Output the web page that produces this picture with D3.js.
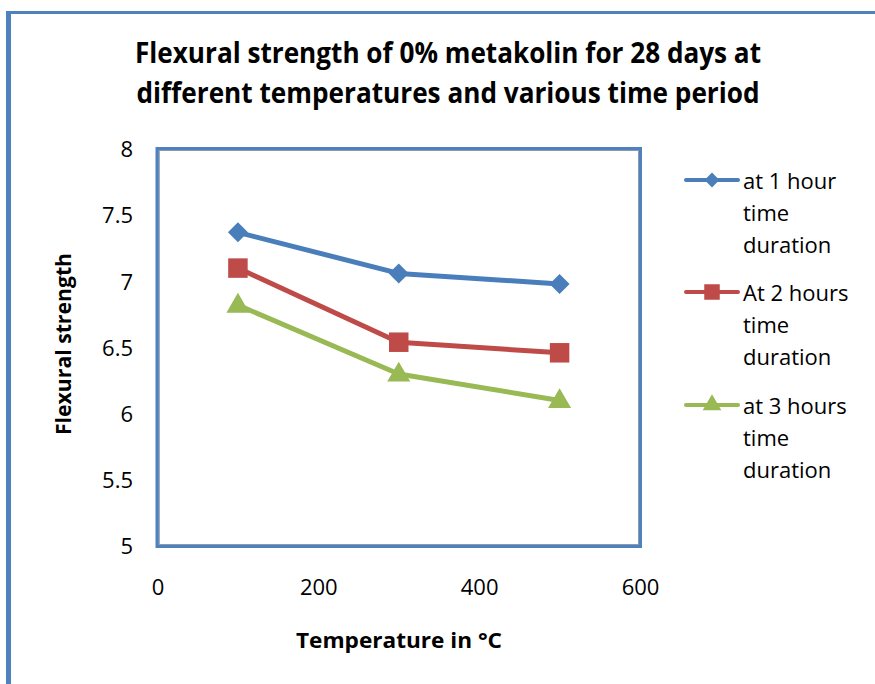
<!DOCTYPE html>
<html>
<head>
<meta charset="utf-8">
<script src="https://cdn.jsdelivr.net/npm/d3@7"></script>
<style>
  html, body { margin: 0; padding: 0; background: #fff; }
  svg { display: block; }
  text { font-family: "Open Sans", "Liberation Sans", sans-serif; fill: #000; }
</style>
</head>
<body>
<svg id="chart" width="875" height="684"></svg>
<script>
// ---- data ----
const temperatures = [100, 300, 500];
const oneHour = [7.37, 7.06, 6.98];
const twoHours = [7.10, 6.54, 6.46];
const threeHours = [6.82, 6.30, 6.10];
const seriesNames = [["at 1 hour", "time", "duration"], ["At 2 hours", "time", "duration"], ["at 3 hours", "time", "duration"]];
const xTicks = [0, 200, 400, 600];
const yTicks = [5, 5.5, 6, 6.5, 7, 7.5, 8];
const titleLines = ["Flexural strength of 0% metakolin for 28 days at", "different temperatures and various time period"];
const xTitle = "Temperature  in \u00b0C";
const yTitle = "Flexural strength";

const colors = ["#4A7EBB", "#BE4B48", "#98B954"];
const symbols = [d3.symbolSquare, d3.symbolSquare, d3.symbolTriangle];
const rotations = [45, 0, 0];
const allSeries = [oneHour, twoHours, threeHours];

const svg = d3.select("#chart");

// outer frame
svg.append("line").attr("x1", 8.5).attr("x2", 8.5).attr("y1", 11).attr("y2", 684)
  .attr("stroke", "#4F81BD").attr("stroke-width", 5);
svg.append("line").attr("x1", 6).attr("x2", 875).attr("y1", 12.5).attr("y2", 12.5)
  .attr("stroke", "#4F81BD").attr("stroke-width", 3);

// title
const titleWidths = [626, 623];
titleLines.forEach((t, i) => {
  svg.append("text").attr("x", 448).attr("y", 52 + i * 40)
    .attr("text-anchor", "middle").attr("dominant-baseline", "central")
    .attr("font-size", 28).attr("font-weight", "bold")
    .attr("textLength", titleWidths[i]).attr("lengthAdjust", "spacingAndGlyphs")
    .text(t);
});

// scales
const plot = { left: 157.5, right: 640, top: 149, bottom: 546 };
const x = d3.scaleLinear().domain([0, 600]).range([plot.left, plot.right]);
const y = d3.scaleLinear().domain([5, 8]).range([plot.bottom, plot.top]);

// plot area border
svg.append("rect").attr("x", plot.left).attr("y", plot.top)
  .attr("width", plot.right - plot.left).attr("height", plot.bottom - plot.top)
  .attr("fill", "none").attr("stroke", "#4F81BD").attr("stroke-width", 4);
svg.append("rect").attr("x", plot.left + 1.5).attr("y", plot.top + 1.5)
  .attr("width", plot.right - plot.left - 3).attr("height", plot.bottom - plot.top - 3)
  .attr("fill", "none").attr("stroke", "#8a9bb0").attr("stroke-width", 1);

// axes (labels only)
const xAxis = d3.axisBottom(x).tickValues(xTicks).tickSize(0).tickPadding(0).tickFormat(d3.format("d"));
const gx = svg.append("g").attr("transform", `translate(0,${plot.bottom + 41})`).call(xAxis);
gx.select(".domain").remove();
gx.selectAll("text").attr("font-size", 22).attr("dy", "0.35em")
  .style("font-family", "'Open Sans', sans-serif").attr("fill", "#000");

const yAxis = d3.axisLeft(y).tickValues(yTicks).tickSize(0).tickPadding(0).tickFormat(d => d3.format("")(d));
const gy = svg.append("g").attr("transform", `translate(${133},0)`).call(yAxis);
gy.select(".domain").remove();
gy.selectAll("text").attr("font-size", 22).attr("dy", "0.35em")
  .style("font-family", "'Open Sans', sans-serif").attr("fill", "#000");

// axis titles
svg.append("text").attr("x", 399).attr("y", 640).attr("text-anchor", "middle")
  .attr("dominant-baseline", "central").attr("font-size", 21).attr("font-weight", "bold")
  .attr("textLength", 206).attr("lengthAdjust", "spacingAndGlyphs").text(xTitle);
svg.append("text").attr("transform", "translate(63,344) rotate(-90)").attr("text-anchor", "middle")
  .attr("dominant-baseline", "central").attr("font-size", 21).attr("font-weight", "bold")
  .attr("textLength", 182).attr("lengthAdjust", "spacingAndGlyphs").text(yTitle);

// lines + markers
const markerSizes = [200, 380, 230];
const line = d3.line().x((d, i) => x(temperatures[i])).y(d => y(d));
allSeries.forEach((vals, s) => {
  svg.append("path").datum(vals).attr("d", line).attr("fill", "none")
    .attr("stroke", colors[s]).attr("stroke-width", 5).attr("stroke-linejoin", "round");
  const sym = d3.symbol().type(symbols[s]).size(markerSizes[s]);
  svg.selectAll(null).data(vals).enter().append("path")
    .attr("d", sym)
    .attr("transform", (d, i) => `translate(${x(temperatures[i])},${y(d) + (s === 2 ? 1 : 0)}) rotate(${rotations[s]})`)
    .attr("fill", colors[s]);
});

// legend
const legendSizes = [110, 240, 150];
const legendRowY = [180, 292, 405];
const rowGap = 32;
seriesNames.forEach((lines, s) => {
  const ly = legendRowY[s];
  svg.append("line").attr("x1", 686).attr("x2", 738).attr("y1", ly).attr("y2", ly)
    .attr("stroke", colors[s]).attr("stroke-width", 4).attr("stroke-linecap", "round");
  const sym = d3.symbol().type(symbols[s]).size(legendSizes[s]);
  svg.append("path").attr("d", sym).attr("transform", `translate(712,${ly}) rotate(${rotations[s]})`).attr("fill", colors[s]);
  lines.forEach((t, k) => {
    svg.append("text").attr("x", 743).attr("y", ly + k * rowGap)
      .attr("dominant-baseline", "central").attr("font-size", 22).text(t);
  });
});
</script>
</body>
</html>
